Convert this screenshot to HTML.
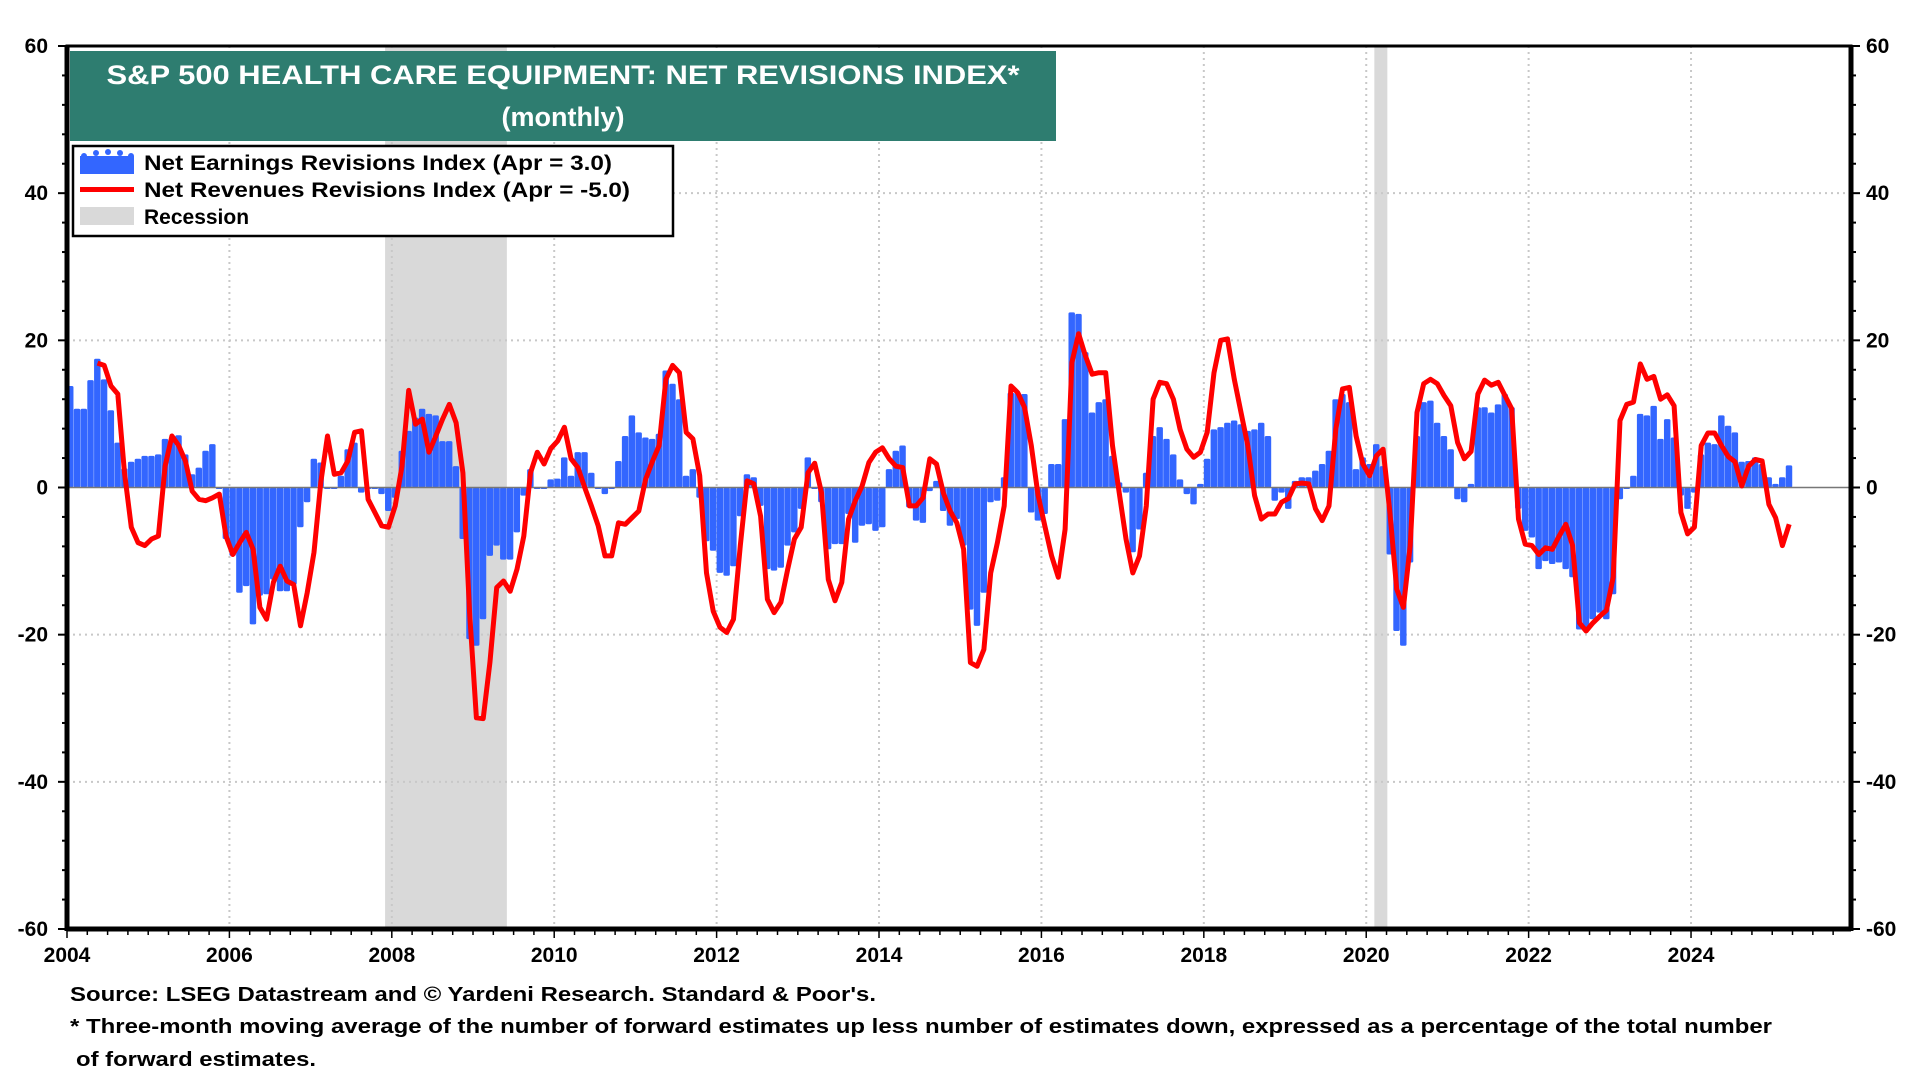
<!DOCTYPE html>
<html>
<head>
<meta charset="utf-8">
<style>
html,body{margin:0;padding:0;background:#fff;}
svg{display:block;font-family:"Liberation Sans",Arial,sans-serif;}
</style>
</head>
<body>
<svg id="chart" width="1920" height="1080" viewBox="0 0 1920 1080" xmlns="http://www.w3.org/2000/svg">
  <rect x="0" y="0" width="1920" height="1080" fill="#fff"/>
  <g id="recessions"></g>
  <g id="grid"></g>
  <g id="bars"></g>
  <line id="zero" stroke="#777" stroke-width="1.5"/>
  <g id="line"></g>
  <g id="axes"></g>

  <g>
    <rect x="70" y="51" width="986" height="90" fill="#2e7d70"/>
    <text x="563" y="84" text-anchor="middle" fill="#fff" font-weight="bold" font-size="27" textLength="913" lengthAdjust="spacingAndGlyphs">S&amp;P 500 HEALTH CARE EQUIPMENT: NET REVISIONS INDEX*</text>
    <text x="563" y="126" text-anchor="middle" fill="#fff" font-weight="bold" font-size="27">(monthly)</text>
  </g>

  <g>
    <rect x="73" y="146" width="600" height="90" fill="#fff" stroke="#000" stroke-width="2.5"/>
    <g>
      <rect x="80" y="156" width="54" height="18" fill="#3366ff"/>
      <circle cx="84" cy="156" r="3" fill="#3366ff"/><circle cx="96" cy="153" r="3" fill="#3366ff"/>
      <circle cx="108" cy="152" r="3" fill="#3366ff"/><circle cx="120" cy="153" r="3" fill="#3366ff"/>
      <circle cx="131" cy="156" r="3" fill="#3366ff"/>
    </g>
    <text x="144" y="170" font-weight="bold" font-size="21" textLength="468" lengthAdjust="spacingAndGlyphs">Net Earnings Revisions Index (Apr  = 3.0)</text>
    <rect x="80" y="187" width="54" height="5" fill="#ff0000"/>
    <text x="144" y="197" font-weight="bold" font-size="21" textLength="486" lengthAdjust="spacingAndGlyphs">Net Revenues Revisions Index (Apr  = -5.0)</text>
    <rect x="80" y="207" width="54" height="18" fill="#d9d9d9"/>
    <text x="144" y="224" font-weight="bold" font-size="21">Recession</text>
  </g>

  <g>
    <text x="70" y="1001" font-weight="bold" font-size="20" textLength="806" lengthAdjust="spacingAndGlyphs">Source: LSEG Datastream and © Yardeni Research. Standard &amp; Poor's.</text>
    <text x="70" y="1033" font-weight="bold" font-size="20" textLength="1702" lengthAdjust="spacingAndGlyphs">* Three-month moving average of the number of forward estimates up less number of estimates down, expressed as a percentage of the total number</text>
    <text x="76" y="1066" font-weight="bold" font-size="20" textLength="240" lengthAdjust="spacingAndGlyphs">of forward estimates.</text>
  </g>
</svg>
<script>
// ---- data ----
const startYear = 2004;
const yTicks = [60, 40, 20, 0, -20, -40, -60];
const xTickYears = [2004, 2006, 2008, 2010, 2012, 2014, 2016, 2018, 2020, 2022, 2024];
const recessionStarts = [2007.917, 2020.1];
const recessionEnds = [2009.417, 2020.26];
const earnings = [
  13.8,10.7,10.7,14.6,17.5,14.7,10.5,6.1,2.6,3.5,3.9,4.3,
  4.3,4.5,6.6,6.3,7.1,4.5,1.8,2.7,5.0,5.9,-0.2,-7,
  -9.3,-14.3,-13.4,-18.6,-14.7,-14.5,-12.5,-14.1,-14.1,-13.2,-5.4,-2,
  3.9,3.4,-0.2,-0.2,1.6,5.2,6.1,-0.7,0,0,-0.9,-3.2,
  -1.4,5,7.7,9.5,10.7,10,9.8,6.3,6.3,2.9,-7,-20.6,
  -21.5,-17.9,-9.3,-7.9,-9.8,-9.8,-6.1,-1.1,2.5,0,-0.2,1.1,
  1.2,4.1,1.6,4.8,4.8,2.0,-0.2,-0.9,-0.2,3.6,7.0,9.8,
  7.5,6.8,6.6,7.3,15.9,14.1,12.0,1.6,2.5,-1.4,-7.3,-8.6,
  -11.6,-12.0,-10.7,-3.9,1.8,1.4,-2.5,-11.1,-11.3,-10.9,-7.9,-6.1,
  -2.9,4.1,0,-2,-8.4,-7.7,-7.7,-3.6,-7.5,-5.2,-5.0,-5.9,
  -5.4,2.5,5.0,5.7,-2.7,-4.5,-4.8,-0.5,0.9,-3.2,-5.2,-4.3,
  -7.9,-16.6,-18.8,-14.3,-2.0,-1.8,1.4,12.9,12.9,12.7,-3.4,-4.5,
  -3.6,3.2,3.2,9.3,23.8,23.6,18.4,10.2,11.6,12.0,4.3,0.7,
  -0.7,-8.8,-5.7,2.0,7.0,8.2,6.6,4.5,1.1,-0.9,-2.3,0.5,
  3.9,7.9,8.2,8.8,9.1,8.6,7.7,7.9,8.8,7.0,-1.8,-0.7,
  -2.9,0.9,1.4,1.4,2.3,3.2,5.0,12.0,12.7,11.6,2.5,4.1,
  3.2,5.9,2.9,-9.1,-19.5,-21.5,-10.2,7.0,11.6,11.8,8.8,7.0,
  5.2,-1.6,-2.0,0.5,10.9,10.9,10.2,11.3,12.7,10.9,-2.9,-5.9,
  -6.8,-11.1,-10.0,-10.4,-10.2,-11.1,-12.2,-19.3,-19.3,-17.9,-17.0,-17.9,
  -14.5,-1.6,0,1.6,10.0,9.8,11.1,6.6,9.3,6.8,-1.1,-2.9,
  -0.7,4.5,6.1,5.9,9.8,8.4,7.5,3.5,3.6,4.1,3.2,1.4,
  0.5,1.4,3.0
];
const revenues = [
  null,null,null,null,16.9,16.6,13.8,12.7,2.0,-5.4,-7.5,-7.9,
  -7.0,-6.6,2.9,7.0,5.7,3.6,-0.5,-1.6,-1.8,-1.4,-0.9,-6.6,
  -9.1,-7.5,-6.1,-8.4,-16.3,-17.9,-12.9,-10.7,-12.7,-13.2,-18.8,-14.3,
  -8.8,0.7,7.0,1.8,2.0,3.6,7.5,7.7,-1.6,-3.4,-5.2,-5.4,
  -2.5,2.9,13.2,8.6,9.3,4.8,7.0,9.3,11.3,8.8,2.0,-17.0,
  -31.3,-31.4,-23.8,-13.6,-12.7,-14.1,-11.1,-6.6,2.0,4.8,3.2,5.3,
  6.3,8.2,3.9,2.7,0,-2.5,-5.2,-9.3,-9.3,-4.8,-5.0,-4.1,
  -3.2,1.1,3.5,5.7,14.7,16.6,15.6,7.5,6.6,1.6,-11.6,-16.8,
  -19.0,-19.7,-17.9,-7.9,0.9,0.5,-3.9,-15.2,-17.0,-15.6,-11.1,-7.0,
  -5.4,2.0,3.3,-0.7,-12.5,-15.4,-12.9,-4.3,-1.8,0.2,3.4,4.8,
  5.4,3.9,2.9,2.7,-2.5,-2.5,-1.4,3.9,3.2,-0.7,-3.2,-4.8,
  -8.4,-23.8,-24.3,-22.0,-11.6,-7.5,-2.5,13.8,12.9,10.9,5.7,-1.0,
  -5.2,-9.3,-12.2,-5.7,17.0,20.9,17.9,15.4,15.6,15.6,5.7,-0.7,
  -7.0,-11.6,-9.3,-2.5,12.0,14.3,14.1,12.0,7.9,5.2,4.1,4.8,
  7.5,15.6,20.0,20.2,14.7,10.2,5.7,-1.1,-4.3,-3.6,-3.6,-2.0,
  -1.5,0.5,0.6,0.5,-2.9,-4.5,-2.5,7.9,13.4,13.6,7.0,3.2,
  1.6,4.3,5.2,-3.4,-13.8,-16.3,-7.9,10.2,14.1,14.7,14.1,12.5,
  11.1,6.1,3.9,4.9,12.7,14.6,13.9,14.3,12.5,10.7,-4.3,-7.7,
  -7.9,-9.1,-8.2,-8.4,-6.6,-5.0,-7.9,-18.4,-19.5,-18.4,-17.5,-16.7,
  -12.2,9.1,11.3,11.6,16.8,14.7,15.1,12.0,12.6,11.1,-3.4,-6.3,
  -5.4,5.7,7.4,7.4,5.7,4.2,3.5,0.2,2.9,3.8,3.6,-2.3,
  -4.1,-7.9,-5.0
];

// ---- scales ----
const NS = "http://www.w3.org/2000/svg";
const L = 67, R = 1851, T = 46, B = 929;
const yMin = -60, yMax = 60, xMin = 2004, xMax = 2025.97;
function xs(yr){ return L + (yr - xMin) / (xMax - xMin) * (R - L); }
function ys(v){ return B - (v - yMin) / (yMax - yMin) * (B - T); }
function mk(tag, attrs, parent){
  const e = document.createElementNS(NS, tag);
  for (const k in attrs) e.setAttribute(k, attrs[k]);
  parent.appendChild(e);
  return e;
}
const monthW = xs(2004 + 1/12) - xs(2004);

// recessions
const recG = document.getElementById('recessions');
recessionStarts.forEach((s, i) => {
  const r = mk('rect', {x: xs(s), y: T, width: xs(recessionEnds[i]) - xs(s), height: B - T, fill: '#d9d9d9'}, recG);
  
  
});

// grid
const gridG = document.getElementById('grid');
yTicks.forEach(v => {
  if (v === 60 || v === -60 || v === 0) return;
  const g = mk('line', {x1: L, x2: R, y1: ys(v), y2: ys(v), stroke: '#c8c8c8', 'stroke-width': 2, 'stroke-dasharray': '2 4'}, gridG);
  
  
});
xTickYears.forEach(yr => {
  if (yr === 2004) return;
  const g = mk('line', {x1: xs(yr), x2: xs(yr), y1: T, y2: B, stroke: '#c8c8c8', 'stroke-width': 2, 'stroke-dasharray': '2 4'}, gridG);
  
  
});

// bars
const barG = document.getElementById('bars');
earnings.forEach((v, k) => {
  const x0 = xs(startYear + k / 12);
  const y0 = ys(Math.max(v, 0)), y1 = ys(Math.min(v, 0));
  const b = mk('rect', {x: x0, y: y0, width: monthW - 0.3, height: Math.max(y1 - y0, 1.5), fill: '#3366ff', rx: 1.5}, barG);
  
  
});

// zero line
const z = document.getElementById('zero');
z.setAttribute('x1', L); z.setAttribute('x2', R);
z.setAttribute('y1', ys(0)); z.setAttribute('y2', ys(0));

// revenues line
let d = '';
revenues.forEach((v, k) => {
  if (v === null) return;
  const x = xs(startYear + k / 12) + monthW / 2;
  d += (d ? 'L' : 'M') + x.toFixed(1) + ',' + ys(v).toFixed(1);
});
const lineG = document.getElementById('line');
const p = mk('path', {d: d, fill: 'none', stroke: '#ff0000', 'stroke-width': 5, 'stroke-linejoin': 'round'}, lineG);



// axes
const ax = document.getElementById('axes');
const frame = mk('rect', {x: L, y: T, width: R - L, height: B - T, fill: 'none', stroke: '#000', 'stroke-width': 3}, ax);


mk('line', {x1: L, x2: L, y1: T, y2: B + 2, stroke: '#000', 'stroke-width': 5}, ax);
mk('line', {x1: R, x2: R, y1: T, y2: B + 2, stroke: '#000', 'stroke-width': 5}, ax);
mk('line', {x1: L, x2: R, y1: B, y2: B, stroke: '#000', 'stroke-width': 5}, ax);
for (let v = yMin; v <= yMax; v += 4) {
  const major = (v % 20 === 0);
  const len = major ? 9 : 5;
  mk('line', {x1: L - len, x2: L, y1: ys(v), y2: ys(v), stroke: '#000', 'stroke-width': 2}, ax);
  mk('line', {x1: R, x2: R + len, y1: ys(v), y2: ys(v), stroke: '#000', 'stroke-width': 2}, ax);
}
yTicks.forEach(v => {
  const t1 = mk('text', {x: 48, y: ys(v) + 7, 'text-anchor': 'end', 'font-size': 21, 'font-weight': 'bold'}, ax);
  t1.textContent = v;
  
  
  const t2 = mk('text', {x: 1866, y: ys(v) + 7, 'text-anchor': 'start', 'font-size': 21, 'font-weight': 'bold'}, ax);
  t2.textContent = v;
  
  
});
for (let q = 0; q <= 22 * 4; q++) {
  const yr = 2004 + q / 4;
  if (yr > xMax) break;
  mk('line', {x1: xs(yr), x2: xs(yr), y1: B, y2: B + (q % 8 === 0 ? 9 : 6), stroke: '#000', 'stroke-width': 1.5}, ax);
}
xTickYears.forEach(yr => {
  const t = mk('text', {x: xs(yr), y: 962, 'text-anchor': 'middle', 'font-size': 21, 'font-weight': 'bold'}, ax);
  t.textContent = yr;
  
  
});
</script>
</body>
</html>
